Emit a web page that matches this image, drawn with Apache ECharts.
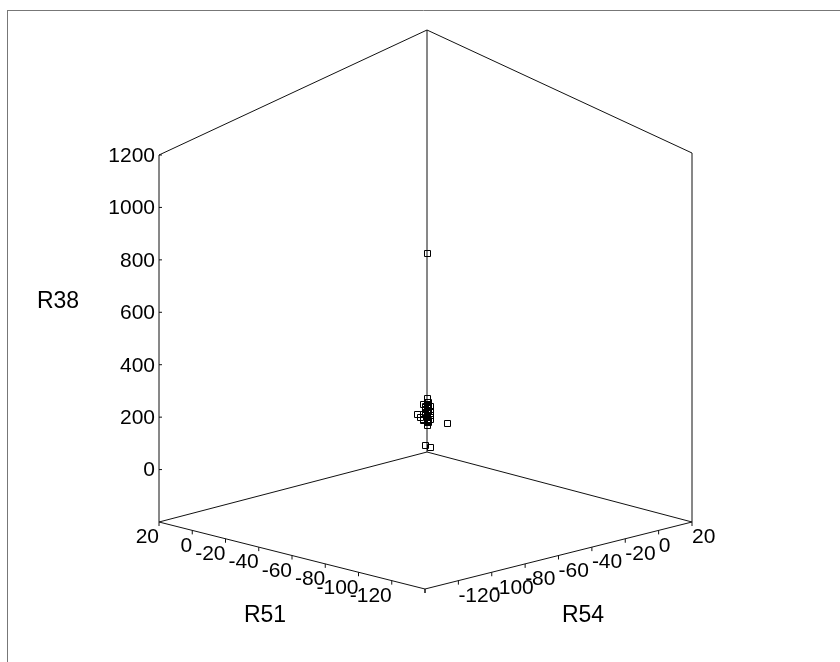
<!DOCTYPE html>
<html>
<head>
<meta charset="utf-8">
<script src="https://cdn.jsdelivr.net/npm/echarts@6/dist/echarts.min.js"></script>
<style>
  html, body { margin: 0; padding: 0; background: #fff; }
  #chart { width: 840px; height: 662px; }
</style>
</head>
<body>
<div id="chart"></div>
<script>
// Observations: R51, R54, R38 for each case
const r51 = [10, 10, 9, 11, 10, 8, 10, 11, 9, 10, 12, 11, 8, 2, 10, 10, 11, 9, -122,
             10, 11, 9, 10, 11, 9, 10, 10, 11, 9, 10, 11, 9, 10, 10];
const r54 = [10, 11, 10, 10, 9, 10, 10, 9, 9, 8, 6, 7, 10, 14, 10, 11, 10, 11, -121,
             10, 9, 11, 10, 10, 10, 11, 9, 10, 11, 10, 9, 10, 10, 11];
const r38 = [12, -5, -12, -18, -25, -30, -36, -42, -50, -58, -40, -48, -55, -65, -80, -66, -150, -152, 1175,
             -3, -8, -14, -20, -22, -27, -33, -38, -44, -46, -52, -60, -62, -68, -71];

// Axis scales and tick labels
const r51Range = [-140, 20];
const r54Range = [-140, 20];
const r38Range = [-200, 1200];
const r51Ticks = [20, 0, -20, -40, -60, -80, -100, -120];
const r54Ticks = [-120, -100, -80, -60, -40, -20, 0, 20];
const r38Ticks = [0, 200, 400, 600, 800, 1000, 1200];

// Screen placement of the box: floor corners and wall heights
const FLOOR = { back: [427, 452], right: [692, 522], left: [159, 522], front: [425, 589] };
const HEIGHT = { back: 422, right: 369, left: 367, front: 314 };

// Maps (R51, R54, R38) to page pixels inside the box
function project(a, b, c) {
  const u = (r51Range[1] - a) / (r51Range[1] - r51Range[0]);
  const v = (r54Range[1] - b) / (r54Range[1] - r54Range[0]);
  const w = (c - r38Range[0]) / (r38Range[1] - r38Range[0]);
  const k0 = (1 - u) * (1 - v), k1 = u * (1 - v), k2 = (1 - u) * v, k3 = u * v;
  const x = FLOOR.back[0] * k0 + FLOOR.right[0] * k1 + FLOOR.left[0] * k2 + FLOOR.front[0] * k3;
  const y0 = FLOOR.back[1] * k0 + FLOOR.right[1] * k1 + FLOOR.left[1] * k2 + FLOOR.front[1] * k3;
  const h = HEIGHT.back * k0 + HEIGHT.right * k1 + HEIGHT.left * k2 + HEIGHT.front * k3;
  return [x, y0 - w * h];
}

const FONT = '"Liberation Sans", Arial, sans-serif';
const LINE = { stroke: '#111', lineWidth: 1 };

function seg(p, q, style) {
  return { type: 'line', silent: true, shape: { x1: p[0], y1: p[1], x2: q[0], y2: q[1] }, style: Object.assign({}, LINE, style || {}) };
}
function label(text, x, y, align, vAlign, size) {
  return { type: 'text', silent: true, x: x, y: y,
    style: { text: text, fill: '#000', font: (size || 21) + 'px ' + FONT, align: align, verticalAlign: vAlign } };
}

const A0 = r51Range[0], A1 = r51Range[1];
const B0 = r54Range[0], B1 = r54Range[1];
const C0 = r38Range[0], C1 = r38Range[1];

const backF = project(A1, B1, C0), backT = project(A1, B1, C1);
const leftF = project(A1, B0, C0), leftT = project(A1, B0, C1);
const rightF = project(A0, B1, C0), rightT = project(A0, B1, C1);
const frontF = project(A0, B0, C0);

const graphics = [
  // page frame
  seg([7, 10.5], [840, 10.5], { stroke: '#777' }),
  seg([7.5, 10], [7.5, 662], { stroke: '#777' }),
  // box edges
  seg(leftF, leftT), seg(rightF, rightT), seg(backF, backT),
  seg(leftT, backT), seg(backT, rightT),
  seg(leftF, backF), seg(backF, rightF),
  seg(leftF, frontF), seg(frontF, rightF)
];

// R38 ticks along the left vertical edge
r38Ticks.forEach(function (t) {
  const p = project(A1, B0, t);
  graphics.push(seg(p, [p[0] + 3, p[1]]));
  graphics.push(label(String(t), p[0] - 4, p[1] + 1, 'right', 'middle'));
});
// R51 ticks along the front-left floor edge
r51Ticks.concat([A0]).forEach(function (t) {
  const p = project(t, B0, C0);
  graphics.push(seg(p, [p[0], p[1] + 4]));
});
r51Ticks.forEach(function (t) {
  const p = project(t, B0, C0);
  graphics.push(label(String(t), p[0], p[1] + 5, 'right', 'top'));
});
// R54 ticks along the front-right floor edge
r54Ticks.concat([B0]).forEach(function (t) {
  const p = project(A0, t, C0);
  graphics.push(seg(p, [p[0], p[1] + 4]));
});
r54Ticks.forEach(function (t) {
  const p = project(A0, t, C0);
  graphics.push(label(String(t), p[0], p[1] + 5, 'left', 'top'));
});
// axis titles
graphics.push(label('R38', 58, 302, 'center', 'middle', 23));
graphics.push(label('R51', 265, 616, 'center', 'middle', 23));
graphics.push(label('R54', 583, 616, 'center', 'middle', 23));

const points = r51.map(function (a, i) { return [a, r54[i], r38[i]]; });

const chart = echarts.init(document.getElementById('chart'), null, { renderer: 'canvas' });
chart.setOption({
  backgroundColor: '#fff',
  animation: false,
  graphic: { elements: graphics },
  series: [{
    type: 'custom',
    coordinateSystem: 'none',
    z: 10,
    data: points,
    renderItem: function (params, api) {
      const p = project(api.value(0), api.value(1), api.value(2));
      // hollow square marker
      return {
        type: 'rect',
        shape: { x: Math.round(p[0]) - 2.5, y: Math.round(p[1]) - 2.5, width: 6, height: 6 },
        style: { fill: 'none', stroke: '#000', lineWidth: 1 }
      };
    }
  }]
});
</script>
</body>
</html>
